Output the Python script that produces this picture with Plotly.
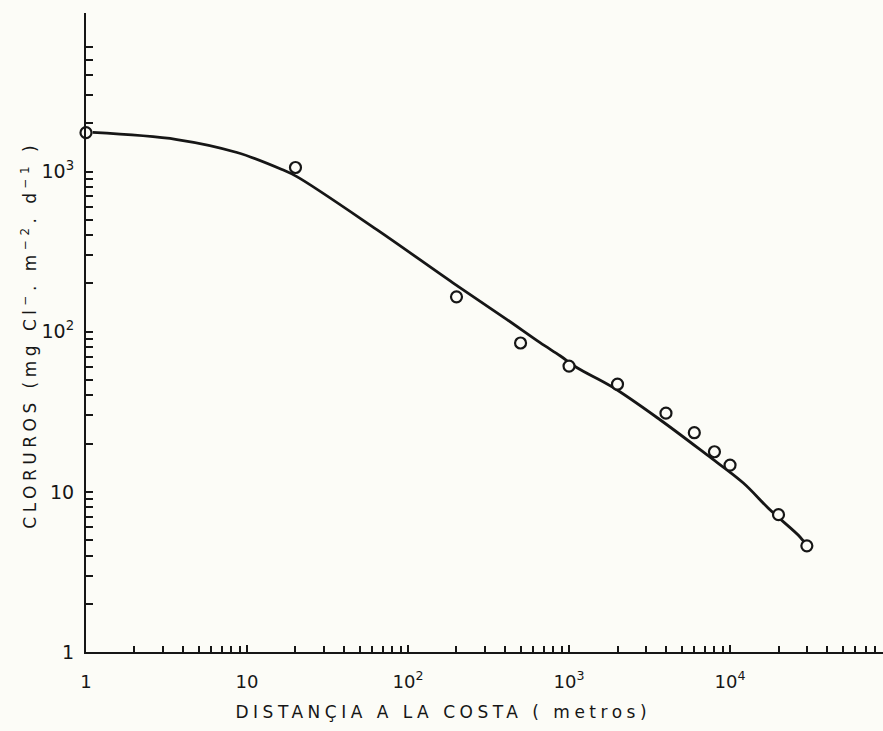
import plotly.graph_objects as go

# Measured points (distance to coast in m, chlorides mg Cl- m-2 d-1)
dist_m = [1, 20, 200, 500, 1000, 2000, 4000, 6000, 8000, 10000, 20000, 30000]
cloruros = [1750, 1060, 165, 85, 61, 47, 31, 23.4, 17.8, 14.7, 7.2, 4.6]

# Hand-drawn fitted curve
curve_x = [1.1, 3.67, 8.67, 16.5, 20.4, 64, 190, 412, 661, 880, 1122,
           1850, 3675, 7200, 12050, 17700, 27200, 30000]
curve_y = [1754, 1585, 1315, 1029, 930, 434, 202, 119, 85.4, 70.8, 59.6,
           45.3, 28.2, 17.0, 11.4, 7.72, 5.23, 4.6]

x_tickvals = [1, 10, 100, 1000, 10000]
x_ticktext = ["1", "10", "10<sup>2</sup>", "10<sup>3</sup>", "10<sup>4</sup>"]
y_tickvals = [1, 10, 100, 1000]
y_ticktext = ["1", "10", "10<sup>2</sup>", "10<sup>3</sup>"]
y_minor_vals = [m * d for d in (1, 10, 100) for m in range(2, 10)] + [2000, 3000, 4000, 5000, 6000]

x_title = "DISTANÇIA A LA COSTA ( metros)"
y_title = "CLORUROS (mg Cl<sup>−</sup>. m<sup>−2</sup>. d<sup>−1</sup> )"

ink = "#161616"
bg = "#fcfcf7"
font_family = "DejaVu Sans"

fig = go.Figure()
fig.add_trace(go.Scatter(
    x=curve_x, y=curve_y, mode="lines",
    line=dict(color=ink, width=2.8, shape="spline", smoothing=1.0),
    hoverinfo="skip", showlegend=False,
))
fig.add_trace(go.Scatter(
    x=dist_m, y=cloruros, mode="markers",
    marker=dict(symbol="circle", size=11, color=bg,
                line=dict(color=ink, width=2.2)),
    showlegend=False, cliponaxis=False,
))

axis_common = dict(
    type="log", showgrid=False, zeroline=False,
    showline=True, linecolor=ink, linewidth=2.2,
    ticks="inside", tickcolor=ink, tickwidth=1.8, ticklen=7,
)

fig.update_xaxes(
    **axis_common,
    range=[0, 4.95],
    tickvals=x_tickvals, ticktext=x_ticktext,
    tickfont=dict(family=font_family, size=18, color=ink),
    ticklabelstandoff=12,
    minor=dict(ticks="inside", ticklen=6, tickcolor=ink, tickwidth=1.6,
               showgrid=False, dtick="D1"),
)
fig.update_yaxes(
    **axis_common,
    range=[0, 3.99],
    tickvals=y_tickvals, ticktext=y_ticktext,
    tickfont=dict(family=font_family, size=19, color=ink),
    ticklabelstandoff=6,
    minor=dict(ticks="inside", ticklen=7, tickcolor=ink, tickwidth=1.8,
               showgrid=False, tickmode="array", tickvals=y_minor_vals),
)

fig.add_annotation(
    text=x_title, xref="paper", yref="paper", x=0.448, y=-0.094,
    xanchor="center", yanchor="middle", showarrow=False,
    font=dict(family=font_family, size=17, color=ink),
)
fig.add_annotation(
    text=y_title, xref="paper", yref="paper", x=-0.072, y=0.496,
    xanchor="center", yanchor="middle", showarrow=False, textangle=-90,
    font=dict(family=font_family, size=17, color=ink),
)

fig.update_layout(
    width=883, height=731,
    margin=dict(l=86, r=0, t=13, b=79),
    paper_bgcolor=bg, plot_bgcolor=bg,
    font=dict(family=font_family, color=ink),
)

post_script = """
document.body.style.margin = '0';
document.body.style.background = '#fcfcf7';
var gd = document.getElementById('{plot_id}');
function spaceTitles() {
  var t = gd.querySelectorAll('.annotation-text');
  if (t.length > 0) { t[0].style.letterSpacing = '4.5px'; }
  if (t.length > 1) { t[1].style.letterSpacing = '4.5px'; }
}
spaceTitles();
gd.on('plotly_afterplot', spaceTitles);
"""

fig.write_html("out.html", post_script=post_script,
               config={"displayModeBar": False})
